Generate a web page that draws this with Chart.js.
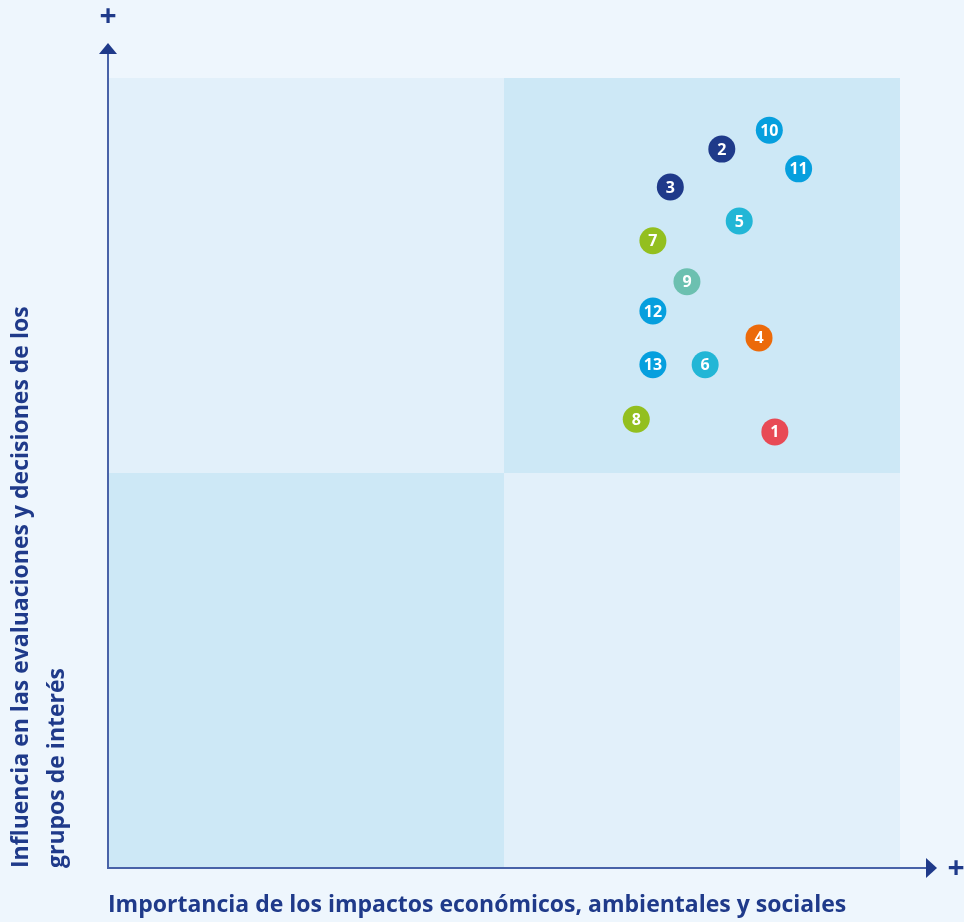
<!DOCTYPE html>
<html lang="es">
<head>
    <meta charset="UTF-8">
    <title>Matriz de materialidad</title>
    <script src="https://cdn.jsdelivr.net/npm/chart.js"></script>
    <style>
        body { margin: 0; background: #eef6fd; }
        canvas { display: block; }
    </style>
</head>
<body>
    <canvas id="myChart" width="964" height="922"></canvas>

    <script>
        // datos de la matriz
        var labels = ['1', '2', '3', '4', '5', '6', '7', '8', '9', '10', '11', '12', '13'];
        var importancia = [8.42, 7.75, 7.10, 8.22, 7.97, 7.54, 6.88, 6.67, 7.31, 8.35, 8.72, 6.88, 6.88];
        var influencia = [5.52, 9.10, 8.62, 6.71, 8.19, 6.37, 7.94, 5.68, 7.42, 9.34, 8.85, 7.05, 6.37];
        var colores = ['#e84a55', '#1f3a8a', '#1f3a8a', '#ec6a0a', '#22b6d6', '#22b6d6', '#93bf1f',
                       '#93bf1f', '#6cc0b0', '#069fde', '#069fde', '#069fde', '#069fde'];
        var tituloX = 'Importancia de los impactos económicos, ambientales y sociales';
        var tituloY = ['Influencia en las evaluaciones y decisiones de los', 'grupos de interés'];

        var AZUL = '#1f3a8a';
        var FUENTE = '"Open Sans"';

        // cuadrantes de fondo
        const cuadrantes = {
            id: 'cuadrantes',
            beforeDatasetsDraw(chart) {
                const { ctx, chartArea: a, scales: { x, y } } = chart;
                const mx = x.getPixelForValue(5);
                const my = y.getPixelForValue(5);
                ctx.save();
                ctx.fillStyle = '#e2f0fa';
                ctx.fillRect(a.left, a.top, mx - a.left, my - a.top);
                ctx.fillRect(mx, my, a.right - mx, a.bottom - my);
                ctx.fillStyle = '#cde8f6';
                ctx.fillRect(mx, a.top, a.right - mx, my - a.top);
                ctx.fillRect(a.left, my, mx - a.left, a.bottom - my);

                // ejes con flechas
                ctx.strokeStyle = '#4862a8';
                ctx.lineWidth = 2;
                ctx.beginPath();
                ctx.moveTo(a.left, a.top - 26);
                ctx.lineTo(a.left, a.bottom);
                ctx.lineTo(a.right + 28, a.bottom);
                ctx.stroke();
                ctx.fillStyle = AZUL;
                ctx.beginPath();
                ctx.moveTo(a.left - 9, a.top - 24);
                ctx.lineTo(a.left + 9, a.top - 24);
                ctx.lineTo(a.left, a.top - 35);
                ctx.fill();
                ctx.beginPath();
                ctx.moveTo(a.right + 26, a.bottom - 10);
                ctx.lineTo(a.right + 26, a.bottom + 10);
                ctx.lineTo(a.right + 37, a.bottom);
                ctx.fill();
                ctx.font = 'bold 30px ' + FUENTE;
                ctx.textAlign = 'center';
                ctx.textBaseline = 'middle';
                ctx.fillText('+', a.left, a.top - 61);
                ctx.fillText('+', a.right + 56, a.bottom + 1);
                ctx.restore();
            },
            afterDatasetsDraw(chart) {
                const { ctx } = chart;
                const meta = chart.getDatasetMeta(0);
                ctx.save();
                ctx.fillStyle = '#ffffff';
                ctx.font = 'bold 16px ' + FUENTE;
                ctx.textAlign = 'center';
                ctx.textBaseline = 'middle';
                meta.data.forEach(function (p, i) {
                    ctx.fillText(labels[i], p.x, p.y + 1);
                });
                ctx.restore();
            }
        };

        const data = {
            datasets: [{
                data: importancia.map(function (v, i) { return { x: v, y: influencia[i] }; }),
                backgroundColor: colores,
                borderWidth: 0,
                pointRadius: 13.5,
                pointHoverRadius: 13.5
            }]
        };

        const config = {
            type: 'scatter',
            data: data,
            options: {
                responsive: false,
                animation: false,
                events: [],
                layout: { padding: { top: 78, right: 64, left: 0, bottom: 0 } },
                plugins: { legend: { display: false }, tooltip: { enabled: false } },
                scales: {
                    x: {
                        min: 0, max: 10,
                        grid: { display: false },
                        border: { display: false },
                        ticks: { display: false },
                        afterFit: function (s) { s.height = 54; },
                        title: {
                            display: true, text: tituloX, align: 'start', color: AZUL,
                            font: { family: FUENTE, size: 23, weight: 'bold', lineHeight: 1.2 },
                            padding: { top: 0, bottom: 3 }
                        }
                    },
                    y: {
                        min: 0, max: 10,
                        grid: { display: false },
                        border: { display: false },
                        ticks: { display: false },
                        afterFit: function (s) { s.width = 108; },
                        title: {
                            display: true, text: tituloY, align: 'start', color: AZUL,
                            font: { family: FUENTE, size: 23, weight: 'bold', lineHeight: 1.55 },
                            padding: { top: 4, bottom: 0 }
                        }
                    }
                }
            },
            plugins: [cuadrantes]
        };

        const ctx = document.getElementById('myChart').getContext('2d');
        const myChart = new Chart(ctx, config);
    </script>
</body>
</html>
